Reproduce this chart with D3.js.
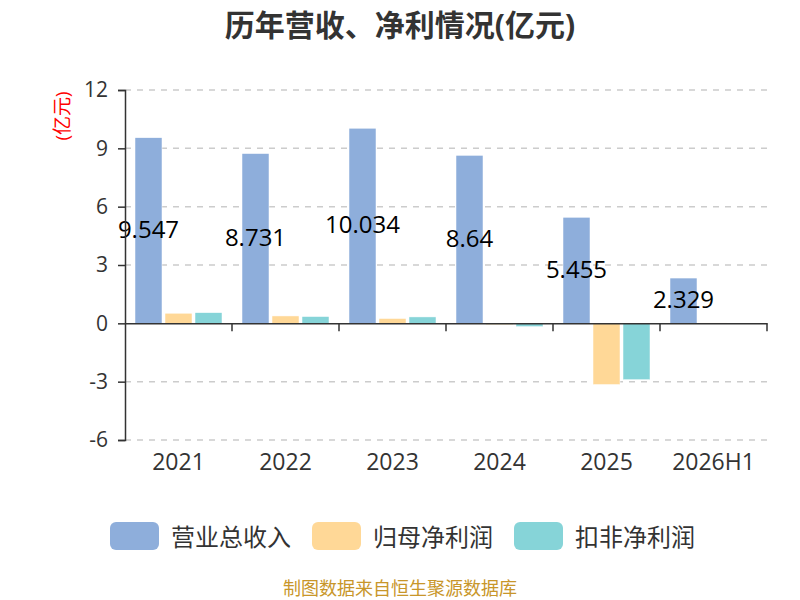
<!DOCTYPE html>
<html>
<head>
<meta charset="utf-8">
<script src="https://cdn.jsdelivr.net/npm/d3@7"></script>
<style>
  body { margin: 0; background: #fff; }
  svg, svg text { font-family: "Open Sans", "Noto Sans CJK SC", sans-serif; }
</style>
</head>
<body>
<svg id="chart" width="800" height="600"></svg>
<script>
// data
const years = ['2021', '2022', '2023', '2024', '2025', '2026H1'];
const revenue = [9.547, 8.731, 10.034, 8.64, 5.455, 2.329];
const netProfit = [0.52, 0.38, 0.25, -0.07, -3.15, 0.02];
const deductedProfit = [0.55, 0.35, 0.33, -0.17, -2.9, 0.01];
const seriesNames = ['营业总收入', '归母净利润', '扣非净利润'];
const yTicks = [-6, -3, 0, 3, 6, 9, 12];

const colors = ['#8eaedb', '#ffd897', '#86d4d8'];
const series = [revenue, netProfit, deductedProfit];

const svg = d3.select('#chart');
const marg = { left: 125, right: 33, top: 90, bottom: 159 };
const width = 800, height = 600;
const font = '"Open Sans", "Noto Sans CJK SC", sans-serif';

const xScale = d3.scaleBand()
  .domain(years)
  .range([marg.left, width - marg.right]);

const yScale = d3.scaleLinear()
  .domain([-6, 12])
  .range([height - marg.bottom - 1, marg.top]);

// inner band for the three bars of one year
const inner = d3.scaleBand()
  .domain(d3.range(series.length))
  .range([10, xScale.bandwidth() - 10])
  .paddingInner(0.1);

// title
svg.append('text')
  .attr('x', width / 2).attr('y', 36)
  .attr('text-anchor', 'middle')
  .style('font-size', '30px').style('font-weight', 'bold')
  .style('fill', '#333')
  .text('历年营收、净利情况(亿元)');

// grid lines
svg.append('g')
  .selectAll('line')
  .data(yTicks.filter(d => d !== 0))
  .join('line')
  .attr('x1', marg.left).attr('x2', width - marg.right)
  .attr('y1', d => yScale(d)).attr('y2', d => yScale(d))
  .style('stroke', '#ccc').style('stroke-width', 1.5)
  .style('stroke-dasharray', '6,6');

// bars
series.forEach((vals, s) => {
  svg.append('g')
    .selectAll('rect')
    .data(vals)
    .join('rect')
    .attr('x', (d, i) => xScale(years[i]) + inner(s))
    .attr('width', inner.bandwidth())
    .attr('y', d => yScale(Math.max(0, d)))
    .attr('height', d => Math.abs(yScale(d) - yScale(0)))
    .style('fill', colors[s])
    .style('stroke', '#fff').style('stroke-width', 0.5);
});

// value labels on revenue bars
svg.append('g')
  .selectAll('text')
  .data(revenue)
  .join('text')
  .attr('x', (d, i) => xScale(years[i]) + inner(0) + inner.bandwidth() / 2)
  .attr('y', d => (yScale(d) + yScale(0)) / 2 - 2)
  .attr('text-anchor', 'middle')
  .attr('dominant-baseline', 'central')
  .style('font-family', font)
  .style('font-size', '24px').style('fill', '#000')
  .text(d => d);

// y axis
const yAxis = svg.append('g')
  .attr('transform', `translate(${marg.left},0)`)
  .call(d3.axisLeft(yScale).tickValues(yTicks).tickFormat(d => String(d))
    .tickSize(7).tickPadding(10))
  .attr('font-family', null);
yAxis.selectAll('text').style('font-family', font)
  .style('font-size', '21px').style('fill', '#333');
yAxis.selectAll('line, path').style('stroke', '#333').style('stroke-width', 1.5);

// x axis at zero
const xAxis = svg.append('g')
  .attr('transform', `translate(0,${yScale(0)})`)
  .call(d3.axisBottom(xScale).tickSize(0).tickPadding(0))
  .attr('font-family', null);
xAxis.select('path').style('stroke', '#333').style('stroke-width', 1.5);
xAxis.selectAll('text')
  .attr('y', yScale(-6) - yScale(0) + 14)
  .style('font-family', font)
  .style('font-size', '23px').style('fill', '#333');

// band boundary ticks on x axis
svg.append('g')
  .selectAll('line')
  .data(years)
  .join('line')
  .attr('x1', d => xScale(d) + xScale.bandwidth())
  .attr('x2', d => xScale(d) + xScale.bandwidth())
  .attr('y1', yScale(0)).attr('y2', yScale(0) + 8)
  .style('stroke', '#333').style('stroke-width', 1.5);

// y axis unit
svg.append('text')
  .attr('transform', `translate(69,116) rotate(-90)`)
  .attr('text-anchor', 'middle')
  .style('font-size', '19px').style('fill', 'red')
  .text('(亿元)');

// legend
const legendX = [110, 312, 514];
const legend = svg.append('g')
  .selectAll('g')
  .data(seriesNames)
  .join('g')
  .attr('transform', (d, i) => `translate(${legendX[i]},522)`);
legend.append('rect')
  .attr('width', 49).attr('height', 28).attr('rx', 6)
  .style('fill', (d, i) => colors[i]);
legend.append('text')
  .attr('x', 61).attr('y', 14)
  .attr('dominant-baseline', 'central')
  .style('font-size', '24px').style('fill', '#333')
  .text(d => d);

// source note
svg.append('text')
  .attr('x', width / 2).attr('y', 595)
  .attr('text-anchor', 'middle')
  .style('font-size', '18px').style('fill', '#c8962a')
  .text('制图数据来自恒生聚源数据库');
</script>
</body>
</html>
